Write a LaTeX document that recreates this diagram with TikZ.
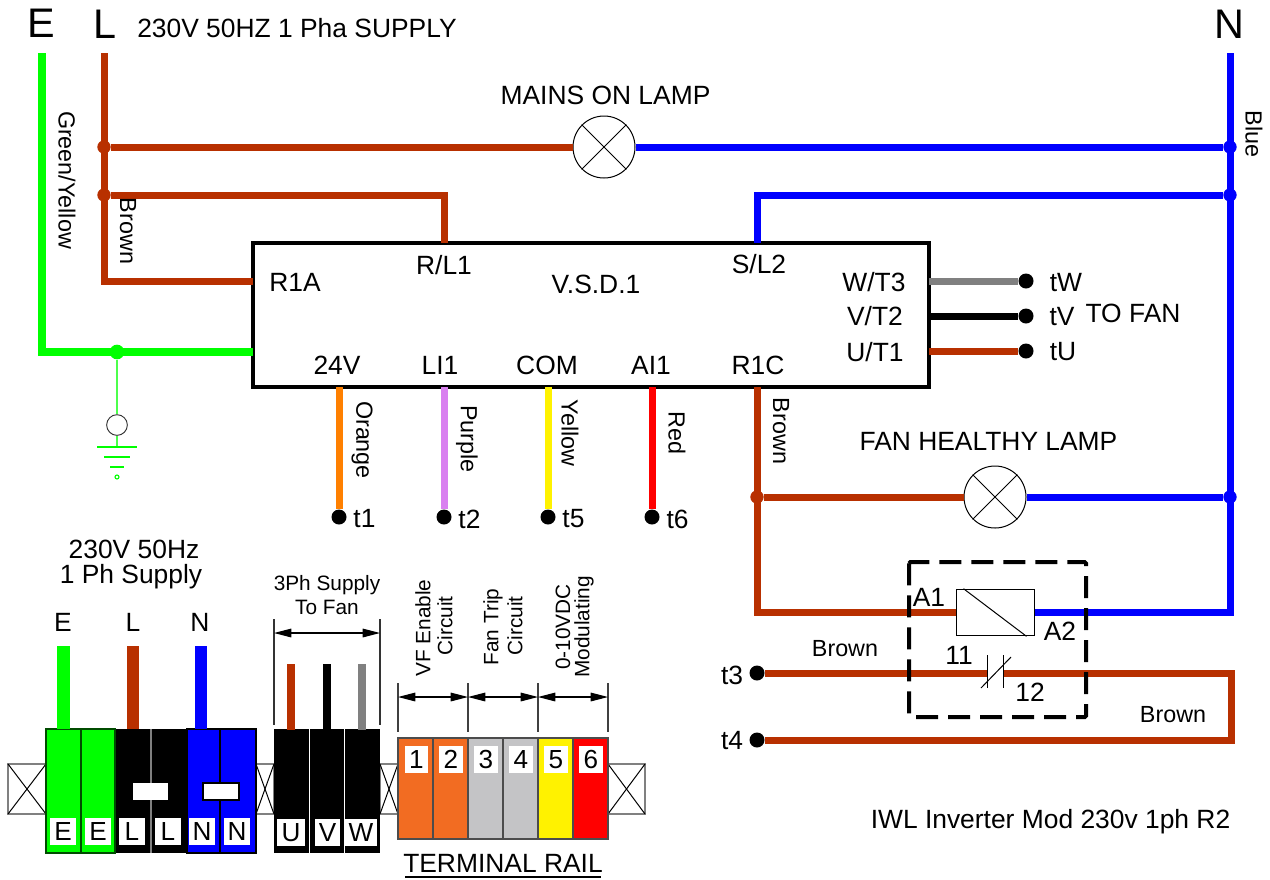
\documentclass[tikz,border=0pt]{standalone}
\usepackage{fontspec}
\setmainfont{Liberation Sans}
\usetikzlibrary{arrows.meta,calc}
\definecolor{wbrown}{RGB}{184,48,0}
\definecolor{wgreen}{RGB}{0,255,0}
\definecolor{wblue}{RGB}{0,0,255}
\definecolor{wgrey}{RGB}{128,128,128}
\definecolor{wpurple}{RGB}{217,128,240}
\definecolor{worange}{RGB}{255,128,0}
\definecolor{rorange}{RGB}{242,108,34}
\definecolor{rgrey}{RGB}{196,196,198}
\tikzset{
  wire/.style={line width=5.25pt,line join=miter},
  brownw/.style={wire,draw=wbrown},
  bluew/.style={wire,draw=wblue},
  greenw/.style={wire,draw=wgreen,line width=6pt},
  dotk/.style={circle,fill=black,inner sep=0pt,minimum size=11.25pt},
  dotb/.style={circle,fill=wbrown,inner sep=0pt,minimum size=10pt},
  dotu/.style={circle,fill=wblue,inner sep=0pt,minimum size=10pt},
  lamp/.style={circle,draw=black,line width=0.75pt,fill=white,inner sep=0pt,minimum size=46.5pt},
  txt/.style={inner sep=0pt,font=\fontsize{19.8}{23}\selectfont,text=black},
  side/.style={inner sep=0pt,font=\fontsize{17.5}{20}\selectfont,rotate=-90},
  big/.style={inner sep=0pt,font=\fontsize{31}{36}\selectfont},
  small/.style={inner sep=0pt,font=\fontsize{15.6}{18}\selectfont},
  vsmall/.style={small,rotate=90},
  tag/.style={fill=white,inner sep=0pt,minimum width=#1,minimum height=20pt,font=\fontsize{19.6}{23}\selectfont},
  tag/.default=19pt,
  stopgrey/.style={draw=wgrey,line width=1.1pt},
  dim/.style={line width=0.8pt,{Triangle[length=13pt,width=6.5pt]}-{Triangle[length=13pt,width=6.5pt]}},
  thin1/.style={line width=0.75pt,black},
}
\begin{document}
\begin{tikzpicture}[x=0.75pt,y=-0.75pt]
\useasboundingbox (0,0) rectangle (1270,879);
\fill[white] (0,0) rectangle (1270,879);

% ---- junctions and corners
\coordinate (Etop) at (42,53);
\coordinate (Ecorner) at (42,352);
\coordinate (Ltop) at (104,53);
\coordinate (Lcorner) at (104,281);
\coordinate (Ntop) at (1230,53);
\coordinate (Ncorner) at (1230,612.5);
\coordinate (RL) at (444,195);
\coordinate (SL) at (757,195);
\coordinate (R1Cc) at (757,612.5);
\coordinate (loopT) at (1231,673);
\coordinate (loopB) at (1231,740);
\node[dotb] (j1) at (104,147) {};
\node[dotb] (j2) at (104,195) {};
\node[dotu] (j3) at (1230,147) {};
\node[dotu] (j4) at (1230,195) {};
\node[dotu] (j5) at (1230,497) {};
\node[dotb] (j6) at (757,497) {};
\node[circle,fill=wgreen,inner sep=0pt,minimum size=11pt] (j7) at (117,352) {};

% ---- main box
\node[draw=black,line width=3pt,outer sep=0pt,minimum width=507pt,minimum height=108pt,inner sep=0pt,anchor=north west] (vsd) at (253,243) {};
\coordinate (vsdW) at (253,352);
\coordinate (vsdR1A) at (253,281);
\coordinate (vsdRL) at (444,243);
\coordinate (vsdSL) at (757,243);
\coordinate (vsdW3) at (929,281);
\coordinate (vsdV2) at (929,316);
\coordinate (vsdU1) at (929,351);
\coordinate (vsd24) at (339,387);
\coordinate (vsdLI) at (444,387);
\coordinate (vsdCOM) at (548,387);
\coordinate (vsdAI) at (652,387);
\coordinate (vsdR1C) at (757,387);

% ---- lamps
\node[lamp] (lamp1) at (604,147) {};
\node[lamp] (lamp2) at (995,497) {};
\foreach \l in {lamp1,lamp2}{
  \draw[thin1] (\l.45) -- (\l.225);
  \draw[thin1] (\l.135) -- (\l.315);
}

% ---- terminals
\node[dotk] (tW) at (1026,281) {};
\node[dotk] (tV) at (1026,316) {};
\node[dotk] (tU) at (1026,351) {};
\node[dotk] (t1) at (339,517) {};
\node[dotk] (t2) at (444,517) {};
\node[dotk] (t5) at (548,517) {};
\node[dotk] (t6) at (652,517) {};
\node[dotk] (t3) at (757,673) {};
\node[dotk] (t4) at (757,740) {};

% ---- relay
\node[draw=black,line width=0.75pt,fill=white,minimum width=58.5pt,minimum height=35pt,inner sep=0pt] (coil) at (995,612.5) {};

% ---- wiring
\draw[greenw] (Etop) -- (Ecorner) -- (vsdW);
\draw[brownw] (Ltop) -- (Lcorner) -- (vsdR1A);
\draw[brownw] (j1) -- (lamp1);
\draw[bluew] (lamp1) -- (j3);
\draw[brownw] (j2) -- (RL) -- (vsdRL);
\draw[bluew] (j4) -- (SL) -- (vsdSL);
\draw[bluew] (Ntop) -- (Ncorner) -- (coil);
\draw[brownw] (vsdR1C) -- (R1Cc) -- (coil);
\draw[brownw] (j6) -- (lamp2);
\draw[bluew] (lamp2) -- (j5);
\draw[wire,draw=wgrey] (vsdW3) -- (tW);
\draw[wire,draw=black] (vsdV2) -- (tV);
\draw[brownw] (vsdU1) -- (tU);
\draw[wire,draw=worange] (vsd24) -- (t1);
\draw[wire,draw=wpurple] (vsdLI) -- (t2);
\draw[wire,draw=yellow] (vsdCOM) -- (t5);
\draw[wire,draw=red] (vsdAI) -- (t6);

% contact
\coordinate (c11) at (987,673);
\coordinate (c12) at (1003,673);
\draw[brownw] (t3) -- (c11);
\draw[brownw] (c12) -- (loopT) -- (loopB) -- (t4);
\draw[thin1] (987,655) -- (987,688);
\draw[thin1] (1003,655) -- (1003,688);
\draw[thin1] (981,688) -- (1011,657);
\draw[thin1] ($(coil.north west)+(8,0)$) -- ($(coil.south east)+(-8,0)$);

% dashed enclosure
\draw[black,line width=3pt,dash pattern=on 16.5pt off 7.5pt,rounded corners=1pt] (909,562) rectangle (1086,717);

% earth
\node[circle,draw=black!80,line width=0.7pt,inner sep=0pt,minimum size=15.5pt] (earth) at (117,425) {};
\draw[line width=1pt,wgreen!70!white] (j7) -- (earth);
\coordinate (g0) at (117,447);
\draw[line width=1pt,wgreen!70!white] (earth) -- (g0);
\draw[line width=0.8pt,wgreen] (97,447) -- (137,447);
\draw[line width=0.8pt,wgreen] (104,457) -- (130,457);
\draw[line width=0.8pt,wgreen] (110,467) -- (124,467);
\node[circle,draw=wgreen,line width=0.8pt,inner sep=0pt,minimum size=3pt] (g1) at (117,477) {};

% ---- labels, upper part
\node[big] (lE) at (41,23) {E};
\node[big] (lL) at (105,24) {L};
\node[big] (lN) at (1229,24) {N};
\node[txt,anchor=west] (sup) at (137,28) {230V 50HZ 1 Pha SUPPLY};
\node[txt] (mains) at (605.5,95) {MAINS ON LAMP};
\node[txt] (fanh) at (988.5,441) {FAN HEALTHY LAMP};
\node[txt] (vsdname) at (596,284) {V.S.D.1};
\node[txt] (a) at (295,282) {R1A};
\node[txt] (b) at (444,265) {R/L1};
\node[txt] (c) at (759,264) {S/L2};
\node[txt] (d) at (874,282) {W/T3};
\node[txt] (e) at (875,316) {V/T2};
\node[txt] (f) at (875,352) {U/T1};
\node[txt] (g) at (337,365) {24V};
\node[txt] (h) at (440,365) {LI1};
\node[txt] (i) at (547,365) {COM};
\node[txt] (j) at (651,365) {AI1};
\node[txt] (k) at (758,365) {R1C};
\node[txt] (ltW) at (1066,283) {tW};
\node[txt] (ltV) at (1062,317) {tV};
\node[txt] (ltU) at (1063,352) {tU};
\node[txt] (tofan) at (1133,313) {TO FAN};
\node[txt] (lt1) at (364.5,519) {t1};
\node[txt] (lt2) at (469.5,519) {t2};
\node[txt] (lt5) at (573.5,519) {t5};
\node[txt] (lt6) at (677.5,519) {t6};
\node[txt] (lt3) at (732,675) {t3};
\node[txt] (lt4) at (732,741) {t4};
\node[side] (s1) at (67,180) {Green/Yellow};
\node[side] (s2) at (128,231) {Brown};
\node[side] (s3) at (1254,134) {Blue};
\node[side] (s4) at (781,431) {Brown};
\node[side] (s5) at (362,440) {Orange};
\node[side] (s6) at (467,439) {Purple};
\node[side] (s7) at (570,433) {Yellow};
\node[side] (s8) at (677,433) {Red};
\node[txt,font=\fontsize{17.5}{20}\selectfont] (br1) at (845,649) {Brown};
\node[txt,font=\fontsize{17.5}{20}\selectfont] (br2) at (1173,715) {Brown};
\node[txt] (a1) at (929,597) {A1};
\node[txt] (a2) at (1060,631) {A2};
\node[txt] (c1) at (959,655) {11};
\node[txt] (c2) at (1030,692) {12};
\node[txt] (iwl) at (1050.5,822) {IWL Inverter Mod 230v 1ph R2};

% ---- lower left supply block
\node[txt] (p1) at (134,549) {230V 50Hz};
\node[txt] (p2) at (131,577) {1 Ph Supply};
\node[txt] (pE) at (63,622) {E};
\node[txt] (pL) at (133,622) {L};
\node[txt] (pN) at (200,622) {N};

% end stops
\foreach \xa/\xb in {8/46,256/274,380/398,608/645}{
  \draw[stopgrey] (\xa,764) rectangle (\xb,814);
  \draw[thin1] (\xa,764) -- (\xb,814);
  \draw[thin1] (\xa,814) -- (\xb,764);
}
% block colours
\fill[wgreen] (46,729) rectangle (115,853);
\fill[black] (115,729) rectangle (187,853);
\fill[wblue] (187,729) rectangle (256,853);
\draw[line width=0.9pt,black!70!wgreen] (46,729) rectangle (115,853);
\draw[line width=0.9pt,black!70!wgreen] (81,729) -- (81,853);
\draw[line width=1.2pt,wgrey] (151,729) -- (151,853);
\draw[line width=0.9pt,black] (220,729) -- (220,853);
\draw[line width=0.9pt,black] (187,729) rectangle (256,853);
\fill[white] (133,783) rectangle (168,800);
\draw[draw=black,fill=white,line width=0.8pt] (203,783) rectangle (239,800);
\fill[black] (274,729) rectangle (380,853);
\draw[line width=0.7pt,white] (309,729) -- (309,853);
\draw[line width=0.7pt,white] (344,729) -- (344,853);

\coordinate (bE) at (63.5,646);\coordinate (bEe) at (63.5,729);
\coordinate (bL) at (133,646);\coordinate (bLe) at (133,729);
\coordinate (bN) at (201,646);\coordinate (bNe) at (201,729);
\draw[line width=9.5pt,wgreen] (bE) -- (bEe);
\draw[line width=9.5pt,wbrown] (bL) -- (bLe);
\draw[line width=9.5pt,wblue] (bN) -- (bNe);
\coordinate (bU) at (291,664);\coordinate (bUe) at (291,730);
\coordinate (bV) at (327,664);\coordinate (bVe) at (327,730);
\coordinate (bW) at (362,664);\coordinate (bWe) at (362,730);
\draw[line width=6.5pt,wbrown] (bU) -- (bUe);
\draw[line width=6.5pt,black] (bV) -- (bVe);
\draw[line width=6.5pt,wgrey] (bW) -- (bWe);

\node[tag] (tE1) at (63,831.5) {E};
\node[tag] (tE2) at (98,831.5) {E};
\node[tag] (tL1) at (132,831.5) {L};
\node[tag] (tL2) at (168,831.5) {L};
\node[tag] (tN1) at (202,831.5) {N};
\node[tag] (tN2) at (237,831.5) {N};
\node[tag=21pt] (tU1) at (291,832.5) {U};
\node[tag] (tV1) at (327.5,832.5) {V};
\node[tag=24pt] (tW1) at (361,832.5) {W};

% 3Ph dimension
\node[small] (q1) at (327,585) {3Ph Supply};
\node[small] (q2) at (327,607) {To Fan};
\draw[line width=0.8pt,black!80] (274,619) -- (274,725);
\draw[line width=0.8pt,black!80] (380,619) -- (380,725);
\coordinate (dA) at (274,633);\coordinate (dB) at (380,633);
\draw[dim] (dA) -- (dB);

% rail
\foreach \xa/\xb/\c in {398/433/rorange,433/468/rorange,468/503/rgrey,503/538/rgrey,538/573/yellow,573/608/red}{
  \draw[fill=\c,line width=0.8pt,draw=black!70] (\xa,738) rectangle (\xb,839);
}
\node[tag=17.5pt] (r1) at (416.5,759.5) {1};
\node[tag=17.5pt] (r2) at (451,759.5) {2};
\node[tag=17.5pt] (r3) at (486,759.5) {3};
\node[tag=17.5pt] (r4) at (521,759.5) {4};
\node[tag=17.5pt] (r5) at (556,759.5) {5};
\node[tag=17.5pt] (r6) at (591,759.5) {6};
\foreach \x in {398,468,538,608}{
  \draw[line width=0.8pt,black!75] (\x,683) -- (\x,732);
}
\coordinate (e1) at (398,697);\coordinate (e2) at (468,697);\coordinate (e3) at (538,697);\coordinate (e4) at (608,697);
\draw[dim] (e1) -- (e2);
\draw[dim] (e2) -- (e3);
\draw[dim] (e3) -- (e4);
\node[vsmall] (v1) at (423,628) {VF Enable};
\node[vsmall] (v2) at (445,626) {Circuit};
\node[vsmall] (v3) at (493,627) {Fan Trip};
\node[vsmall] (v4) at (515,626) {Circuit};
\node[vsmall] (v5) at (563,627) {0-10VDC};
\node[vsmall] (v6) at (584,627) {Modulating};
\node[txt] (rail) at (503,863) {TERMINAL RAIL};
\coordinate (u1) at (405,877);\coordinate (u2) at (601,877);
\draw[line width=0.8pt,black] (u1) -- (u2);
\end{tikzpicture}
\end{document}
